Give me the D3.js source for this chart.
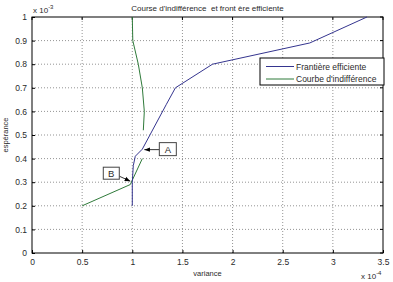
<!DOCTYPE html>
<html>
<head>
<meta charset="utf-8">
<script src="https://cdn.jsdelivr.net/npm/d3@7"></script>
<style>
  body { margin: 0; background: white; }
  text { font-family: 'Liberation Sans', Arial, sans-serif; fill: #2a2a2a; }
</style>
</head>
<body>
<div id="container"></div>
<script>
let W = 393, H = 282;
let margin = {left: 32, right: 10, top: 17, bottom: 29};

// values (x in 1e-4, y in 1e-3)
let xTicks = [0, 0.5, 1, 1.5, 2, 2.5, 3, 3.5];
let yTicks = [0, 0.1, 0.2, 0.3, 0.4, 0.5, 0.6, 0.7, 0.8, 0.9, 1];

let frontierVar = [1.0, 1.0, 1.01, 1.03, 1.1, 1.34, 1.43, 1.8, 2.77, 3.34];
let frontierEsp = [0.2, 0.3, 0.37, 0.41, 0.44, 0.63, 0.70, 0.80, 0.89, 1.0];

// null marks the break in the indifference curve
let indiffVar = [0.5, 0.98, 1.1, null, 1.11, 1.12, 1.1, 1.06, 1.005, 1.0];
let indiffEsp = [0.2, 0.29, 0.4, null, 0.52, 0.6, 0.7, 0.8, 0.9, 1.0];

let seriesNames = ['Frantière efficiente', "Courbe d'indifférence"];
let seriesColors = ['#35358f', '#2f7a3a'];

let svg = d3.select('#container')
  .append('svg')
    .attr('width', W)
    .attr('height', H);

let x = d3.scaleLinear().domain([0, 3.5]).range([margin.left, W - margin.right]);
let y = d3.scaleLinear().domain([0, 1]).range([H - margin.bottom, margin.top]);

// dotted grid
svg.append('g').selectAll('line')
  .data(xTicks.slice(1, -1))
  .enter().append('line')
    .attr('x1', d => x(d)).attr('x2', d => x(d))
    .attr('y1', y(0)).attr('y2', y(1))
    .attr('stroke', '#666').attr('stroke-width', 0.7)
    .attr('stroke-dasharray', '1,2');
svg.append('g').selectAll('line')
  .data(yTicks.slice(1, -1))
  .enter().append('line')
    .attr('x1', x(0)).attr('x2', x(3.5))
    .attr('y1', d => y(d)).attr('y2', d => y(d))
    .attr('stroke', '#666').attr('stroke-width', 0.7)
    .attr('stroke-dasharray', '1,2');

// axes, ticks pointing inward
let xAxis = d3.axisBottom(x).tickValues(xTicks).tickSize(-3).tickPadding(6)
  .tickFormat(d => d3.format('~g')(d));
let yAxis = d3.axisLeft(y).tickValues(yTicks).tickSize(-3).tickPadding(5)
  .tickFormat(d => d3.format('~g')(d));

let gx = svg.append('g').attr('transform', 'translate(0,' + y(0) + ')').call(xAxis);
let gy = svg.append('g').attr('transform', 'translate(' + x(0) + ',0)').call(yAxis);
[gx, gy].forEach(g => {
  g.select('.domain').remove();
  g.selectAll('line').attr('stroke', '#000');
  g.selectAll('text').attr('font-size', 8.5).attr('fill', '#2a2a2a')
    .style('font-family', "'Liberation Sans', Arial, sans-serif");
});
// ticks on top and right too
svg.append('g').selectAll('line').data(xTicks).enter().append('line')
  .attr('x1', d => x(d)).attr('x2', d => x(d))
  .attr('y1', y(1)).attr('y2', y(1) + 3).attr('stroke', '#000');
svg.append('g').selectAll('line').data(yTicks).enter().append('line')
  .attr('x1', x(3.5)).attr('x2', x(3.5) - 3)
  .attr('y1', d => y(d)).attr('y2', d => y(d)).attr('stroke', '#000');

// box
svg.append('rect')
  .attr('x', x(0)).attr('y', y(1))
  .attr('width', x(3.5) - x(0)).attr('height', y(0) - y(1))
  .attr('fill', 'none').attr('stroke', '#000').attr('stroke-width', 1);

// series
let line = d3.line()
  .defined(d => d[0] !== null)
  .x(d => x(d[0])).y(d => y(d[1]));

let frontier = frontierVar.map((v, i) => [v, frontierEsp[i]]);
let indiff = indiffVar.map((v, i) => [v, indiffEsp[i]]);

svg.append('path').datum(indiff)
  .attr('d', line).attr('fill', 'none')
  .attr('stroke', seriesColors[1]).attr('stroke-width', 1);
svg.append('path').datum(frontier)
  .attr('d', line).attr('fill', 'none')
  .attr('stroke', seriesColors[0]).attr('stroke-width', 1);

// annotations A and B
svg.append('defs').append('marker')
  .attr('id', 'head')
  .attr('viewBox', '0 0 10 10')
  .attr('refX', 10).attr('refY', 5)
  .attr('markerWidth', 7).attr('markerHeight', 7)
  .attr('orient', 'auto-start-reverse')
  .append('path').attr('d', 'M0,1L10,5L0,9Z').attr('fill', '#000');

function note(label, px, py, bx) {
  svg.append('line')
    .attr('x1', bx.x1).attr('y1', bx.ay)
    .attr('x2', px).attr('y2', py)
    .attr('stroke', '#000').attr('stroke-width', 0.8)
    .attr('marker-end', 'url(#head)');
  svg.append('rect')
    .attr('x', bx.x).attr('y', bx.y).attr('width', bx.w).attr('height', bx.h)
    .attr('fill', 'white').attr('stroke', '#444').attr('stroke-width', 1);
  svg.append('text')
    .attr('x', bx.x + bx.w / 2).attr('y', bx.y + bx.h / 2 + 3.5)
    .attr('text-anchor', 'middle').attr('font-size', 9.5)
    .text(label);
}
let ax = x(1.11), ay = y(0.438);
note('A', ax + 1, ay, {x: ax + 16, y: ay - 7, w: 17, h: 13, x1: ax + 16, ay: ay});
let bxp = x(0.99), byp = y(0.3);
note('B', bxp - 1, byp - 1, {x: bxp - 28, y: byp - 15, w: 16, h: 12, x1: bxp - 12, ay: byp - 6});

// legend
let leg = svg.append('g').attr('transform', 'translate(260,58)');
leg.append('rect').attr('width', 124).attr('height', 27)
  .attr('fill', 'white').attr('stroke', '#000').attr('stroke-width', 1);
seriesNames.forEach((name, i) => {
  leg.append('line')
    .attr('x1', 6).attr('x2', 34)
    .attr('y1', 8.5 + i * 12.5).attr('y2', 8.5 + i * 12.5)
    .attr('stroke', seriesColors[i]).attr('stroke-width', 1);
  leg.append('text')
    .attr('x', 36).attr('y', 11.5 + i * 12.5)
    .attr('font-size', 8.5)
    .text(name);
});

// title and labels
svg.append('text')
  .attr('x', (x(0) + x(3.5)) / 2).attr('y', 11)
  .attr('text-anchor', 'middle').attr('font-size', 8)
  .style('white-space', 'pre')
  .text("Course d'indifférence  et front ère efficiente");

svg.append('text')
  .attr('x', (x(0) + x(3.5)) / 2).attr('y', 276)
  .attr('text-anchor', 'middle').attr('font-size', 7.5)
  .text('variance');

svg.append('text')
  .attr('transform', 'translate(8,' + y(0.5) + ') rotate(-90)')
  .attr('text-anchor', 'middle').attr('font-size', 7.5)
  .text('espérance');

// exponent notes
let e1 = svg.append('text').attr('x', 33).attr('y', 13).attr('font-size', 8);
e1.append('tspan').text('x 10');
e1.append('tspan').attr('dy', -4).attr('font-size', 6).text('-3');

let e2 = svg.append('text').attr('x', 361).attr('y', 279).attr('font-size', 8);
e2.append('tspan').text('x 10');
e2.append('tspan').attr('dy', -4).attr('font-size', 6).text('-4');
</script>
</body>
</html>
